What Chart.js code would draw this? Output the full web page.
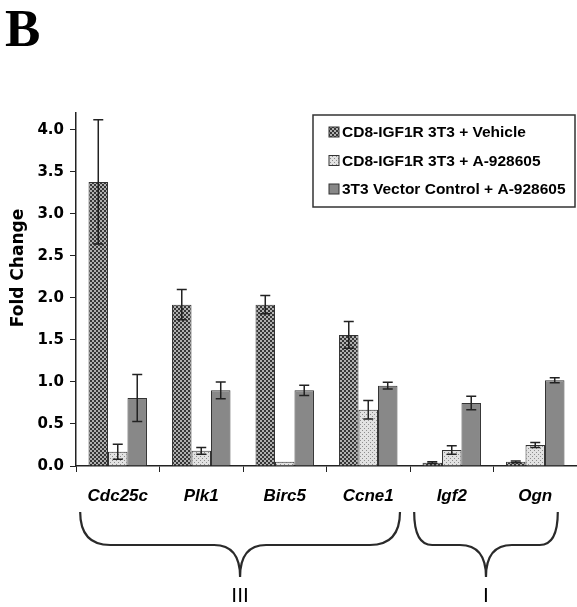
<!DOCTYPE html>
<html>
<head>
<meta charset="utf-8">
<script src="https://cdn.jsdelivr.net/npm/chart.js@4"></script>
<style>
  html, body { margin: 0; padding: 0; background: #fff; }
  canvas { display: block; }
</style>
</head>
<body>
<canvas id="chart" width="577" height="607"></canvas>
<script>
const categories = ["Cdc25c", "Plk1", "Birc5", "Ccne1", "Igf2", "Ogn"];
const seriesNames = ["CD8-IGF1R 3T3 + Vehicle", "CD8-IGF1R 3T3 + A-928605", "3T3 Vector Control + A-928605"];
const vehicle = [3.38, 1.92, 1.92, 1.56, 0.04, 0.05];
const vehicleErr = [0.74, 0.18, 0.11, 0.16, 0.01, 0.01];
const treated = [0.17, 0.18, 0.05, 0.67, 0.19, 0.25];
const treatedErr = [0.09, 0.04, 0.0, 0.11, 0.05, 0.03];
const control = [0.81, 0.90, 0.90, 0.955, 0.75, 1.02];
const controlErr = [0.28, 0.10, 0.06, 0.04, 0.08, 0.03];
const yTicks = [0, 0.5, 1.0, 1.5, 2.0, 2.5, 3.0, 3.5, 4.0];
const groupLabels = ["III", "I"];
const groupFrom = [0, 4];
const groupTo = [3, 5];

function makePattern(bg, fg, kind) {
  const c = document.createElement("canvas");
  c.width = 4; c.height = 4;
  const g = c.getContext("2d");
  g.fillStyle = bg;
  g.fillRect(0, 0, 4, 4);
  g.fillStyle = fg;
  if (kind === "check") {
    g.fillRect(0, 0, 2, 2);
    g.fillRect(2, 2, 2, 2);
  } else {
    g.fillRect(0, 0, 1, 1);
    g.fillRect(2, 2, 1, 1);
  }
  return g.createPattern(c, "repeat");
}

const fills = [
  makePattern("#363636", "#b0b0b0", "check"),
  makePattern("#e2e2e2", "#8e8e8e", "dot"),
  "#888888"
];
const errs = [vehicleErr, treatedErr, controlErr];

// error bars, braces, legend, labels
const extras = {
  id: "extras",
  afterDatasetsDraw(chart) {
    const ctx = chart.ctx;
    const y = chart.scales.y;
    ctx.save();
    ctx.strokeStyle = "#222";
    ctx.lineWidth = 1.5;
    chart.data.datasets.forEach((ds, di) => {
      const meta = chart.getDatasetMeta(di);
      meta.data.forEach((bar, i) => {
        const e = errs[di][i];
        if (!e) return;
        const v = ds.data[i];
        const top = y.getPixelForValue(v + e);
        const bot = y.getPixelForValue(Math.max(0, v - e));
        ctx.beginPath();
        ctx.moveTo(bar.x, top); ctx.lineTo(bar.x, bot);
        ctx.moveTo(bar.x - 5, top); ctx.lineTo(bar.x + 5, top);
        ctx.moveTo(bar.x - 5, bot); ctx.lineTo(bar.x + 5, bot);
        ctx.stroke();
      });
    });
    ctx.restore();
  },
  afterDraw(chart) {
    const ctx = chart.ctx;
    const x = chart.scales.x;
    const step = x.getPixelForValue(1) - x.getPixelForValue(0);
    ctx.save();

    // panel letter
    ctx.fillStyle = "#000";
    ctx.font = "bold 53px 'Liberation Serif'";
    ctx.textBaseline = "alphabetic";
    ctx.textAlign = "left";
    ctx.fillText("B", 5, 46);

    // y title
    ctx.save();
    ctx.translate(19, 268);
    ctx.rotate(-Math.PI / 2);
    ctx.font = "bold 17px 'DejaVu Sans'";
    ctx.textAlign = "center";
    ctx.textBaseline = "middle";
    ctx.fillText("Fold Change", 0, 0);
    ctx.restore();

    // legend
    const lx = 313, ly = 115;
    ctx.strokeStyle = "#333";
    ctx.lineWidth = 1.5;
    ctx.fillStyle = "#fff";
    ctx.fillRect(lx, ly, 262, 92);
    ctx.strokeRect(lx, ly, 262, 92);
    ctx.font = "bold 15.5px 'Liberation Sans'";
    ctx.textAlign = "left";
    ctx.textBaseline = "middle";
    seriesNames.forEach((name, i) => {
      const cy = 132 + i * 28.5;
      ctx.fillStyle = fills[i];
      ctx.fillRect(329, cy - 5, 10, 10);
      ctx.lineWidth = 1;
      ctx.strokeRect(329, cy - 5, 10, 10);
      ctx.fillStyle = "#000";
      ctx.fillText(name, 342, cy + 1);
    });

    // braces
    ctx.strokeStyle = "#2a2a2a";
    ctx.lineWidth = 2.2;
    groupLabels.forEach((lab, g) => {
      const xl = x.getPixelForValue(groupFrom[g]) - step * 0.45;
      const xr = x.getPixelForValue(groupTo[g]) + step * (g === 0 ? 0.38 : 0.27);
      const xm = (xl + xr) / 2;
      const yt = 512, yh = 545, yb = 577;
      const r = g === 0 ? 30 : 18;
      const c = 26;
      ctx.beginPath();
      ctx.moveTo(xl, yt);
      ctx.quadraticCurveTo(xl, yh, xl + r, yh);
      ctx.lineTo(xm - c, yh);
      ctx.quadraticCurveTo(xm, yh, xm, yb);
      ctx.moveTo(xr, yt);
      ctx.quadraticCurveTo(xr, yh, xr - r, yh);
      ctx.lineTo(xm + c, yh);
      ctx.quadraticCurveTo(xm, yh, xm, yb);
      ctx.stroke();
      ctx.fillStyle = "#000";
      ctx.font = "21px 'Liberation Sans'";
      ctx.textAlign = "center";
      ctx.textBaseline = "middle";
      ctx.fillText(lab, xm, 596);
    });
    ctx.restore();
  }
};

new Chart(document.getElementById("chart"), {
  type: "bar",
  data: {
    labels: categories,
    datasets: [vehicle, treated, control].map((d, i) => ({
      label: seriesNames[i],
      data: d,
      backgroundColor: fills[i],
      borderColor: "#333",
      borderWidth: 1,
      categoryPercentage: 0.7,
      barPercentage: 1.0
    }))
  },
  options: {
    responsive: false,
    animation: false,
    layout: { padding: { top: 113, right: 0, left: 0, bottom: 0 } },
    plugins: { legend: { display: false }, tooltip: { enabled: false } },
    scales: {
      x: {
        afterFit(s) { s.height = 141; },
        border: { color: "#222", width: 1.5 },
        grid: { offset: true, drawOnChartArea: false, drawTicks: true, tickLength: 6, color: "#222" },
        ticks: {
          padding: 14,
          color: "#000",
          font: { family: "'Liberation Sans'", size: 17, weight: "bold", style: "italic" }
        }
      },
      y: {
        min: 0,
        max: 4.2,
        afterFit(s) { s.width = 76; },
        afterBuildTicks(s) { s.ticks = yTicks.map(v => ({ value: v })); },
        border: { color: "#222", width: 1.5 },
        grid: { drawOnChartArea: false, drawTicks: true, tickLength: 6, color: "#222" },
        ticks: {
          padding: 6,
          color: "#000",
          font: { family: "'DejaVu Sans'", size: 15, weight: "bold" },
          callback: v => v.toFixed(1)
        }
      }
    }
  },
  plugins: [extras]
});
</script>
</body>
</html>
